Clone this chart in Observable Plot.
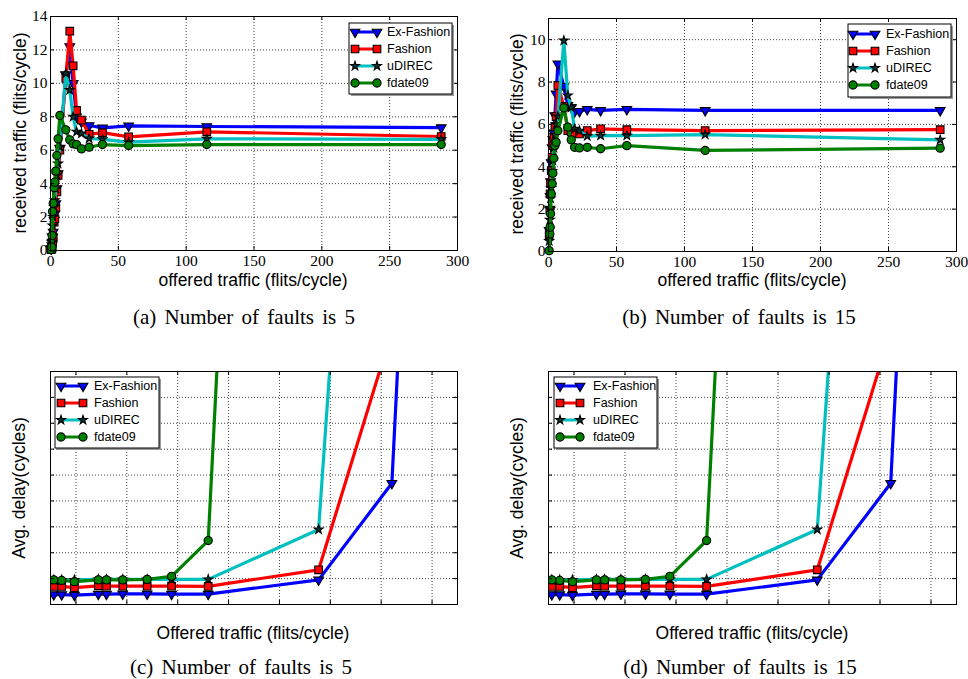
<!DOCTYPE html>
<html><head><meta charset="utf-8">
<script src="https://cdn.jsdelivr.net/npm/d3@7"></script>
<script src="https://cdn.jsdelivr.net/npm/@observablehq/plot@0.6"></script>
<style>
body{margin:0;background:#fff;}
#fig{position:relative;width:968px;height:679px;overflow:hidden;background:#fff;}
.cap{position:absolute;font-family:"Liberation Serif","Times New Roman",serif;font-size:21px;line-height:21px;white-space:nowrap;transform:translateX(-50%);color:#000;word-spacing:3px;}
</style></head><body><div id="fig"></div>
<script>
// ---------- series meta ----------
const seriesNames = ["Ex-Fashion", "Fashion", "uDIREC", "fdate09"];
const seriesColors = ["#0000ff", "#ff0000", "#00bfbf", "#008000"];
const seriesSymbols = ["triangle", "square", "star", "circle"];

// ---------- ticks ----------
const xTicksTraffic = [0, 50, 100, 150, 200, 250, 300];
const yTicksA = [0, 2, 4, 6, 8, 10, 12, 14];
const yTicksB = [0, 2, 4, 6, 8, 10];
const xTicksDelay = [0.5, 1.5, 2.5, 3.5, 4.5, 5.5, 6.5, 7.5];
const yTicksDelay = [1, 2, 3, 4, 5, 6, 7, 8];

// ---------- (a), (b): received vs offered traffic ----------
const offeredTraffic = [0.5, 1.0, 1.2, 1.5, 2.0, 2.7, 3.2, 3.9, 4.7, 5.6, 6.9, 11.3, 14.2, 16.7, 19.2, 22.8, 28.5, 38.3, 57.6, 115.2, 288];

const recvA_ExFashion = [0.1, 0.3, 0.5, 0.8, 1.1, 1.8, 2.2, 2.8, 3.7, 4.6, 6.1, 10.5, 12.2, 10.0, 8.0, 7.7, 7.48, 7.34, 7.46, 7.42, 7.35];
const recvA_Fashion   = [0.05, 0.1, 0.2, 0.5, 0.76, 1.7, 1.9, 2.55, 3.5, 4.5, 6.0, 10.3, 13.12, 11.05, 8.38, 7.8, 6.95, 7.05, 6.8, 7.1, 6.82];
const recvA_uDIREC    = [0.2, 0.5, 0.9, 1.5, 2.0, 2.6, 3.0, 3.7, 4.5, 5.2, 6.2, 10.6, 9.6, 8.0, 7.1, 7.0, 6.7, 6.65, 6.48, 6.68, 6.65];
const recvA_fdate09   = [0.05, 0.2, 0.9, 2.33, 2.83, 3.75, 4.09, 4.75, 5.68, 6.68, 8.08, 7.22, 6.62, 6.38, 6.34, 6.08, 6.18, 6.34, 6.28, 6.34, 6.34];

const recvB_ExFashion = [1.0, 2.0, 2.6, 3.3, 4.2, 4.9, 5.3, 5.6, 6.42, 7.44, 8.86, 7.8, 6.9, 6.8, 6.6, 6.62, 6.71, 6.66, 6.71, 6.66, 6.66];
const recvB_Fashion   = [0.8, 1.94, 2.72, 3.2, 3.82, 4.45, 5.0, 5.4, 5.9, 6.37, 7.84, 6.85, 5.71, 5.65, 5.6, 5.55, 5.71, 5.79, 5.75, 5.71, 5.75];
const recvB_uDIREC    = [0.5, 1.5, 2.0, 2.5, 3.0, 3.8, 4.3, 4.9, 5.5, 6.0, 6.37, 9.96, 7.37, 6.8, 5.79, 5.7, 5.45, 5.47, 5.47, 5.52, 5.27];
const recvB_fdate09   = [0.04, 0.83, 1.15, 1.78, 2.72, 3.2, 3.7, 4.4, 5.0, 5.16, 5.7, 6.78, 5.87, 5.27, 4.92, 4.89, 4.92, 4.85, 5.0, 4.77, 4.88];

// ---------- (c), (d): delay vs offered traffic (no tick labels in source) ----------
const offeredDelayX = [0.065, 0.22, 0.47, 0.94, 1.10, 1.42, 1.90, 2.38, 3.10, 5.27, 6.71, 7.10];
const delayC_ExFashion = [0.38, 0.38, 0.36, 0.40, 0.40, 0.41, 0.41, 0.40, 0.40, 0.95, 4.68, 20];
const delayC_Fashion   = [0.70, 0.70, 0.65, 0.72, 0.71, 0.71, 0.71, 0.71, 0.70, 1.34, 10.55, null];
const delayC_uDIREC    = [0.95, 0.95, 0.95, 0.97, 0.97, 0.97, 0.97, 0.97, 0.97, 2.9, 43.6, null];
const delayC_fdate09   = [0.95, 0.93, 0.88, 0.95, 0.95, 0.95, 0.97, 1.09, 2.47, 85.9, null, null];

const delayD_ExFashion = [0.38, 0.38, 0.36, 0.40, 0.40, 0.41, 0.41, 0.40, 0.40, 0.95, 4.68, 20];
const delayD_Fashion   = [0.70, 0.70, 0.65, 0.72, 0.71, 0.71, 0.71, 0.71, 0.70, 1.34, 10.55, null];
const delayD_uDIREC    = [0.95, 0.95, 0.95, 0.97, 0.97, 0.97, 0.97, 0.97, 0.97, 2.9, 43.6, null];
const delayD_fdate09   = [0.95, 0.93, 0.88, 0.95, 0.95, 0.95, 0.97, 1.09, 2.47, 85.9, null, null];

// ---------- helpers ----------
const SANS = "'Liberation Sans', Arial, Helvetica, sans-serif";
const SERIF = "'Liberation Serif', 'Times New Roman', serif";
const radii = [3.6, 4.3, 2.8, 4.1];
const symFills = ["#0000ff", "#ff0000", "#0a3a3a", "#008000"];

function buildRows(xs, arrays) {
  return arrays.map((ys, i) => xs.map((x, j) => ({x, y: ys[j] == null ? NaN : ys[j], series: seriesNames[i]})));
}

function seriesMarks(rows, clip) {
  const marks = [];
  rows.forEach((r, i) => {
    marks.push(Plot.line(r, {x: "x", y: "y", stroke: seriesColors[i], strokeWidth: 3.2, strokeLinejoin: "round", clip}));
    marks.push(Plot.dot(r, {x: "x", y: "y", symbol: seriesSymbols[i], fill: symFills[i], stroke: "#000", strokeWidth: 1.1, r: radii[i], rotate: i === 0 ? 180 : 0, clip}));
  });
  return marks;
}

function frameMarks(xt, yt, pw, ph) {
  const g = {stroke: "#000", strokeOpacity: 0.75, strokeDasharray: "1,2", strokeWidth: 1};
  return {
    grid: [Plot.gridX(xt, g), Plot.gridY(yt, g)],
    ticks: [
      Plot.ruleX(xt, {x: d => d, insetTop: ph - 4, stroke: "#000"}),
      Plot.ruleX(xt, {x: d => d, insetBottom: ph - 4, stroke: "#000"}),
      Plot.ruleY(yt, {y: d => d, insetRight: pw - 4, stroke: "#000"}),
      Plot.ruleY(yt, {y: d => d, insetLeft: pw - 4, stroke: "#000"}),
      Plot.frame({stroke: "#000", strokeWidth: 1})
    ]
  };
}

function addLabel(svg, x, y, text, rotate) {
  d3.select(svg).append("text")
    .attr("transform", `translate(${x},${y})` + (rotate ? " rotate(-90)" : ""))
    .attr("text-anchor", "middle").attr("dominant-baseline", "central")
    .attr("font-family", SANS).attr("font-size", 17.5).attr("fill", "#000")
    .text(text);
}

function addLegend(svg, box, rowsY, lineX0, lineX1, textX) {
  const s = d3.select(svg).append("g");
  s.append("rect").attr("x", box[0] + 2).attr("y", box[1] + 2).attr("width", box[2] - box[0]).attr("height", box[3] - box[1]).attr("fill", "#9a9a9a");
  s.append("rect").attr("x", box[0]).attr("y", box[1]).attr("width", box[2] - box[0]).attr("height", box[3] - box[1]).attr("fill", "#fff").attr("stroke", "#000").attr("stroke-width", 1);
  const symMap = {triangle: d3.symbolTriangle, square: d3.symbolSquare, star: d3.symbolStar, circle: d3.symbolCircle};
  seriesNames.forEach((name, i) => {
    const y = rowsY[i];
    s.append("line").attr("x1", lineX0).attr("x2", lineX1).attr("y1", y).attr("y2", y)
      .attr("stroke", seriesColors[i]).attr("stroke-width", 3);
    const path = d3.symbol(symMap[seriesSymbols[i]], Math.PI * radii[i] * radii[i])();
    [lineX0, lineX1].forEach(px => {
      s.append("path").attr("d", path)
        .attr("transform", `translate(${px},${y})` + (i === 0 ? " rotate(180)" : ""))
        .attr("fill", symFills[i]).attr("stroke", "#000").attr("stroke-width", 1.1);
    });
    s.append("text").attr("x", textX).attr("y", y).attr("dominant-baseline", "central")
      .attr("text-anchor", "start")
      .attr("font-family", SANS).attr("font-size", 12.5).attr("fill", "#000").text(name);
  });
}

function trafficPanel(cfg) {
  const pw = cfg.width - cfg.ml - cfg.mr, ph = cfg.height - cfg.mt - cfg.mb;
  const fm = frameMarks(xTicksTraffic, cfg.yTicks, pw, ph);
  return Plot.plot({
    width: cfg.width, height: cfg.height,
    marginLeft: cfg.ml, marginRight: cfg.mr, marginTop: cfg.mt, marginBottom: cfg.mb,
    style: {fontFamily: SERIF, fontSize: "15.5px", background: "transparent", overflow: "visible", color: "#000"},
    x: {domain: [0, 300]},
    y: {domain: [0, cfg.yMax]},
    marks: [
      ...fm.grid,
      ...seriesMarks(buildRows(offeredTraffic, cfg.series), false),
      ...fm.ticks,
      Plot.axisX(xTicksTraffic, {tickSize: 0, tickPadding: 4, label: null, fontSize: 15.5, fontFamily: SERIF}),
      Plot.axisY(cfg.yTicks, {tickSize: 0, tickPadding: 3, label: null, fontSize: 15.5, fontFamily: SERIF})
    ]
  });
}

function delayPanel(cfg) {
  const pw = cfg.width - cfg.ml - cfg.mr, ph = cfg.height - cfg.mt - cfg.mb;
  const fm = frameMarks(xTicksDelay, yTicksDelay, pw, ph);
  return Plot.plot({
    width: cfg.width, height: cfg.height,
    marginLeft: cfg.ml, marginRight: cfg.mr, marginTop: cfg.mt, marginBottom: cfg.mb,
    style: {fontFamily: SANS, background: "transparent", overflow: "visible"},
    x: {domain: [0, 8], axis: null},
    y: {domain: [0, 9], axis: null},
    marks: [
      ...fm.grid,
      ...seriesMarks(buildRows(offeredDelayX, cfg.series), true),
      ...fm.ticks
    ]
  });
}

const fig = document.getElementById("fig");
function place(node, left, top) {
  node.style.position = "absolute"; node.style.left = left + "px"; node.style.top = top + "px";
  fig.appendChild(node);
}
function caption(text, cx, top) {
  const d = document.createElement("div");
  d.className = "cap"; d.style.left = cx + "px"; d.style.top = top + "px"; d.textContent = text;
  fig.appendChild(d);
}

// (a)
const pa = trafficPanel({width: 480, height: 300, ml: 50, mr: 23, mt: 16, mb: 50, yMax: 14, yTicks: yTicksA,
  series: [recvA_ExFashion, recvA_Fashion, recvA_uDIREC, recvA_fdate09]});
addLabel(pa, 20, 133, "received traffic (flits/cycle)", true);
addLabel(pa, 253, 280, "offered traffic (flits/cycle)", false);
addLegend(pa, [349, 23, 452, 94], [32, 49, 66, 83], 355, 377, 387);
place(pa, 0, 0);

// (b)
const pb = trafficPanel({width: 488, height: 300, ml: 68, mr: 12, mt: 18, mb: 49, yMax: 11, yTicks: yTicksB,
  series: [recvB_ExFashion, recvB_Fashion, recvB_uDIREC, recvB_fdate09]});
addLabel(pb, 37, 134, "received traffic (flits/cycle)", true);
addLabel(pb, 272, 280, "offered traffic (flits/cycle)", false);
addLegend(pb, [368, 24, 471, 97], [34, 51, 68, 85], 373, 395, 406);
place(pb, 480, 0);

// (c)
const pc = delayPanel({width: 480, height: 300, ml: 50, mr: 23, mt: 16, mb: 51,
  series: [delayC_ExFashion, delayC_Fashion, delayC_uDIREC, delayC_fdate09]});
addLabel(pc, 19, 133, "Avg. delay(cycles)", true);
addLabel(pc, 253, 278, "Offered traffic (flits/cycle)", false);
addLegend(pc, [55, 22, 159, 93], [31, 48, 65, 82], 61, 83, 94);
place(pc, 0, 355);

// (d)
const pd = delayPanel({width: 488, height: 300, ml: 68, mr: 12, mt: 16, mb: 51,
  series: [delayD_ExFashion, delayD_Fashion, delayD_uDIREC, delayD_fdate09]});
addLabel(pd, 37, 133, "Avg. delay(cycles)", true);
addLabel(pd, 272, 278, "Offered traffic (flits/cycle)", false);
addLegend(pd, [74, 22, 177, 93], [31, 48, 65, 82], 80, 100, 113);
place(pd, 480, 355);

caption("(a) Number of faults is 5", 244, 307);
caption("(b) Number of faults is 15", 739, 307);
caption("(c) Number of faults is 5", 241, 657);
caption("(d) Number of faults is 15", 740, 657);
</script></body></html>
